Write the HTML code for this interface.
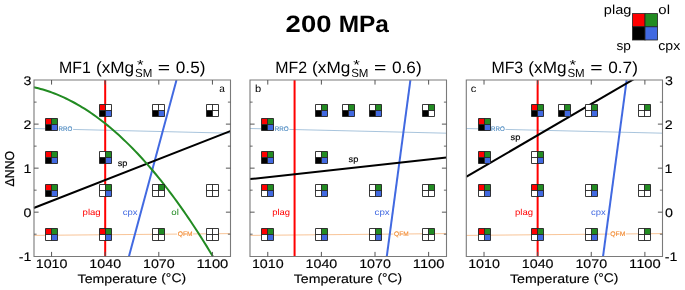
<!DOCTYPE html><html><head><meta charset="utf-8"><style>html,body{margin:0;padding:0;background:#fff;overflow:hidden;}svg{display:block;will-change:transform;}text{font-family:"Liberation Sans",sans-serif;text-rendering:geometricPrecision;}</style></head><body>
<svg width="685" height="290" viewBox="0 0 685 290">
<rect width="685" height="290" fill="#fff"/>
<defs>
<clipPath id="c0"><rect x="33.7" y="80.1" width="196.6" height="176.1"/></clipPath>
<clipPath id="c1"><rect x="249.9" y="80.1" width="196.6" height="176.1"/></clipPath>
<clipPath id="c2"><rect x="466.15" y="80.1" width="196.6" height="176.1"/></clipPath>
</defs>
<g clip-path="url(#c0)">
<line x1="33.7" y1="128.5" x2="230.3" y2="133.2" stroke="#4682b4" stroke-opacity="0.47" stroke-width="1"/>
<line x1="33.7" y1="235.4" x2="230.3" y2="233.6" stroke="#f4a460" stroke-opacity="0.65" stroke-width="1"/>
<line x1="105.19" y1="80.1" x2="105.19" y2="256.2" stroke="#ff0000" stroke-width="2"/>
<line x1="129.00" y1="256.2" x2="176.50" y2="80.1" stroke="#4169e1" stroke-width="2"/>
<line x1="33.7" y1="208.0" x2="230.3" y2="131.1" stroke="#000000" stroke-width="2"/>
<path d="M33.70,87.22 L36.01,87.75 L38.32,88.31 L40.62,88.92 L42.93,89.57 L45.24,90.27 L47.55,91.01 L49.85,91.79 L52.16,92.62 L54.47,93.49 L56.78,94.40 L59.08,95.35 L61.39,96.35 L63.70,97.39 L66.01,98.48 L68.31,99.61 L70.62,100.78 L72.93,101.99 L75.24,103.25 L77.54,104.55 L79.85,105.90 L82.16,107.28 L84.47,108.71 L86.77,110.19 L89.08,111.71 L91.39,113.27 L93.70,114.87 L96.01,116.52 L98.31,118.21 L100.62,119.94 L102.93,121.72 L105.24,123.54 L107.54,125.40 L109.85,127.31 L112.16,129.25 L114.47,131.25 L116.77,133.28 L119.08,135.36 L121.39,137.48 L123.70,139.65 L126.00,141.86 L128.31,144.11 L130.62,146.41 L132.93,148.74 L135.23,151.13 L137.54,153.55 L139.85,156.02 L142.16,158.53 L144.46,161.08 L146.77,163.68 L149.08,166.32 L151.39,169.01 L153.69,171.73 L156.00,174.51 L158.31,177.32 L160.62,180.18 L162.93,183.08 L165.23,186.02 L167.54,189.01 L169.85,192.04 L172.16,195.11 L174.46,198.23 L176.77,201.39 L179.08,204.59 L181.39,207.83 L183.69,211.12 L186.00,214.46 L188.31,217.83 L190.62,221.25 L192.92,224.71 L195.23,228.22 L197.54,231.77 L199.85,235.36 L202.15,238.99 L204.46,242.67 L206.77,246.39 L209.08,250.16 L211.38,253.97 L213.69,257.82 L216.00,261.71" fill="none" stroke="#228b22" stroke-width="2"/>
</g>
<rect x="58.10" y="124.60" width="15.00" height="7.6" fill="#fff"/>
<text x="58.59" y="130.90" font-size="6.6" fill="#4a88c0" textLength="13.81" lengthAdjust="spacingAndGlyphs" stroke="#4a88c0" stroke-width="0.12">RRO</text>
<rect x="177.10" y="229.60" width="15.90" height="7.6" fill="#fff"/>
<text x="177.78" y="235.90" font-size="6.6" fill="#f28a30" textLength="14.78" lengthAdjust="spacingAndGlyphs" stroke="#f28a30" stroke-width="0.12">QFM</text>
<rect x="45.50" y="118.50" width="6.00" height="6.00" fill="#ff0000"/><rect x="51.50" y="118.50" width="6.00" height="6.00" fill="#228b22"/><rect x="45.50" y="124.50" width="6.00" height="6.00" fill="#000000"/><rect x="51.50" y="124.50" width="6.00" height="6.00" fill="#4169e1"/><path d="M45.5,118.5H57.5V130.5H45.5ZM51.5,118.5V130.5M45.5,124.5H57.5" fill="none" stroke="#222" stroke-width="0.9"/>
<rect x="99.50" y="104.50" width="6.00" height="6.00" fill="#ff0000"/><rect x="105.50" y="104.50" width="6.00" height="6.00" fill="#ffffff"/><rect x="99.50" y="110.50" width="6.00" height="6.00" fill="#000000"/><rect x="105.50" y="110.50" width="6.00" height="6.00" fill="#4169e1"/><path d="M99.5,104.5H111.5V116.5H99.5ZM105.5,104.5V116.5M99.5,110.5H111.5" fill="none" stroke="#222" stroke-width="0.9"/>
<rect x="152.50" y="104.50" width="6.00" height="6.00" fill="#ffffff"/><rect x="158.50" y="104.50" width="6.00" height="6.00" fill="#ffffff"/><rect x="152.50" y="110.50" width="6.00" height="6.00" fill="#000000"/><rect x="158.50" y="110.50" width="6.00" height="6.00" fill="#4169e1"/><path d="M152.5,104.5H164.5V116.5H152.5ZM158.5,104.5V116.5M152.5,110.5H164.5" fill="none" stroke="#222" stroke-width="0.9"/>
<rect x="206.50" y="104.50" width="6.00" height="6.00" fill="#ffffff"/><rect x="212.50" y="104.50" width="6.00" height="6.00" fill="#ffffff"/><rect x="206.50" y="110.50" width="6.00" height="6.00" fill="#000000"/><rect x="212.50" y="110.50" width="6.00" height="6.00" fill="#ffffff"/><path d="M206.5,104.5H218.5V116.5H206.5ZM212.5,104.5V116.5M206.5,110.5H218.5" fill="none" stroke="#222" stroke-width="0.9"/>
<rect x="45.50" y="151.50" width="6.00" height="6.00" fill="#ff0000"/><rect x="51.50" y="151.50" width="6.00" height="6.00" fill="#228b22"/><rect x="45.50" y="157.50" width="6.00" height="6.00" fill="#000000"/><rect x="51.50" y="157.50" width="6.00" height="6.00" fill="#4169e1"/><path d="M45.5,151.5H57.5V163.5H45.5ZM51.5,151.5V163.5M45.5,157.5H57.5" fill="none" stroke="#222" stroke-width="0.9"/>
<rect x="99.50" y="151.50" width="6.00" height="6.00" fill="#ffffff"/><rect x="105.50" y="151.50" width="6.00" height="6.00" fill="#228b22"/><rect x="99.50" y="157.50" width="6.00" height="6.00" fill="#000000"/><rect x="105.50" y="157.50" width="6.00" height="6.00" fill="#4169e1"/><path d="M99.5,151.5H111.5V163.5H99.5ZM105.5,151.5V163.5M99.5,157.5H111.5" fill="none" stroke="#222" stroke-width="0.9"/>
<rect x="45.50" y="184.50" width="6.00" height="6.00" fill="#ff0000"/><rect x="51.50" y="184.50" width="6.00" height="6.00" fill="#228b22"/><rect x="45.50" y="190.50" width="6.00" height="6.00" fill="#000000"/><rect x="51.50" y="190.50" width="6.00" height="6.00" fill="#4169e1"/><path d="M45.5,184.5H57.5V196.5H45.5ZM51.5,184.5V196.5M45.5,190.5H57.5" fill="none" stroke="#222" stroke-width="0.9"/>
<rect x="99.50" y="184.50" width="6.00" height="6.00" fill="#ffffff"/><rect x="105.50" y="184.50" width="6.00" height="6.00" fill="#228b22"/><rect x="99.50" y="190.50" width="6.00" height="6.00" fill="#ffffff"/><rect x="105.50" y="190.50" width="6.00" height="6.00" fill="#4169e1"/><path d="M99.5,184.5H111.5V196.5H99.5ZM105.5,184.5V196.5M99.5,190.5H111.5" fill="none" stroke="#222" stroke-width="0.9"/>
<rect x="152.50" y="184.50" width="6.00" height="6.00" fill="#ffffff"/><rect x="158.50" y="184.50" width="6.00" height="6.00" fill="#228b22"/><rect x="152.50" y="190.50" width="6.00" height="6.00" fill="#ffffff"/><rect x="158.50" y="190.50" width="6.00" height="6.00" fill="#ffffff"/><path d="M152.5,184.5H164.5V196.5H152.5ZM158.5,184.5V196.5M152.5,190.5H164.5" fill="none" stroke="#222" stroke-width="0.9"/>
<rect x="206.50" y="184.50" width="6.00" height="6.00" fill="#ffffff"/><rect x="212.50" y="184.50" width="6.00" height="6.00" fill="#ffffff"/><rect x="206.50" y="190.50" width="6.00" height="6.00" fill="#ffffff"/><rect x="212.50" y="190.50" width="6.00" height="6.00" fill="#ffffff"/><path d="M206.5,184.5H218.5V196.5H206.5ZM212.5,184.5V196.5M206.5,190.5H218.5" fill="none" stroke="#222" stroke-width="0.9"/>
<rect x="45.50" y="228.50" width="6.00" height="6.00" fill="#ff0000"/><rect x="51.50" y="228.50" width="6.00" height="6.00" fill="#228b22"/><rect x="45.50" y="234.50" width="6.00" height="6.00" fill="#ffffff"/><rect x="51.50" y="234.50" width="6.00" height="6.00" fill="#4169e1"/><path d="M45.5,228.5H57.5V240.5H45.5ZM51.5,228.5V240.5M45.5,234.5H57.5" fill="none" stroke="#222" stroke-width="0.9"/>
<rect x="99.50" y="228.50" width="6.00" height="6.00" fill="#ff0000"/><rect x="105.50" y="228.50" width="6.00" height="6.00" fill="#228b22"/><rect x="99.50" y="234.50" width="6.00" height="6.00" fill="#ffffff"/><rect x="105.50" y="234.50" width="6.00" height="6.00" fill="#4169e1"/><path d="M99.5,228.5H111.5V240.5H99.5ZM105.5,228.5V240.5M99.5,234.5H111.5" fill="none" stroke="#222" stroke-width="0.9"/>
<rect x="152.50" y="228.50" width="6.00" height="6.00" fill="#ffffff"/><rect x="158.50" y="228.50" width="6.00" height="6.00" fill="#228b22"/><rect x="152.50" y="234.50" width="6.00" height="6.00" fill="#ffffff"/><rect x="158.50" y="234.50" width="6.00" height="6.00" fill="#ffffff"/><path d="M152.5,228.5H164.5V240.5H152.5ZM158.5,228.5V240.5M152.5,234.5H164.5" fill="none" stroke="#222" stroke-width="0.9"/>
<rect x="206.50" y="228.50" width="6.00" height="6.00" fill="#ffffff"/><rect x="212.50" y="228.50" width="6.00" height="6.00" fill="#ffffff"/><rect x="206.50" y="234.50" width="6.00" height="6.00" fill="#ffffff"/><rect x="212.50" y="234.50" width="6.00" height="6.00" fill="#ffffff"/><path d="M206.5,228.5H218.5V240.5H206.5ZM212.5,228.5V240.5M206.5,234.5H218.5" fill="none" stroke="#222" stroke-width="0.9"/>
<text x="117.65" y="165.80" font-size="8.6" fill="#000000" textLength="9.73" lengthAdjust="spacingAndGlyphs" stroke="#000" stroke-width="0.15">sp</text>
<text x="82.58" y="214.90" font-size="8.6" fill="#ff0000" textLength="18.13" lengthAdjust="spacingAndGlyphs" stroke="none">plag</text>
<text x="122.69" y="214.90" font-size="8.6" fill="#4169e1" textLength="14.84" lengthAdjust="spacingAndGlyphs" stroke="none">cpx</text>
<text x="171.29" y="214.90" font-size="8.6" fill="#228b22" textLength="7.58" lengthAdjust="spacingAndGlyphs" stroke="none">ol</text>
<text x="219.37" y="91.70" font-size="10.3" fill="#000" textLength="5.62" lengthAdjust="spacingAndGlyphs" >a</text>
<path d="M34.0,80.0H230.5V256.5H34.0Z" fill="none" stroke="#7a7a7a" stroke-width="1.1"/>
<path d="M51.57,256.5v-4.6M51.57,80.0v4.6M105.19,256.5v-4.6M105.19,80.0v4.6M158.81,256.5v-4.6M158.81,80.0v4.6M212.43,256.5v-4.6M212.43,80.0v4.6M34.0,212.17h4.6M230.5,212.17h-4.6M34.0,168.15h4.6M230.5,168.15h-4.6M34.0,124.12h4.6M230.5,124.12h-4.6" stroke="#555555" stroke-width="1" fill="none"/>
<path d="M34.0,234.19h2.6M230.5,234.19h-2.6M34.0,190.16h2.6M230.5,190.16h-2.6M34.0,146.14h2.6M230.5,146.14h-2.6M34.0,102.11h2.6M230.5,102.11h-2.6" stroke="#555555" stroke-width="0.9" fill="none"/>
<text x="35.75" y="268.20" font-size="12.5" fill="#000" stroke="#000" stroke-width="0.12" textLength="31.74" lengthAdjust="spacingAndGlyphs" >1010</text>
<text x="89.37" y="268.20" font-size="12.5" fill="#000" stroke="#000" stroke-width="0.12" textLength="31.74" lengthAdjust="spacingAndGlyphs" >1040</text>
<text x="142.99" y="268.20" font-size="12.5" fill="#000" stroke="#000" stroke-width="0.12" textLength="31.74" lengthAdjust="spacingAndGlyphs" >1070</text>
<text x="196.57" y="268.20" font-size="12.5" fill="#000" stroke="#000" stroke-width="0.12" textLength="31.77" lengthAdjust="spacingAndGlyphs" >1100</text>
<text x="77.58" y="282.80" font-size="12.4" fill="#000" stroke="#000" stroke-width="0.12" textLength="79.44" lengthAdjust="spacingAndGlyphs" >Temperature</text>
<text x="161.23" y="282.30" font-size="12.4" fill="#000" stroke="#000" stroke-width="0.12" textLength="24.81" lengthAdjust="spacingAndGlyphs" >(°C)</text>
<text x="58.99" y="72.50" font-size="16.4" fill="#000" textLength="31.77" lengthAdjust="spacingAndGlyphs" >MF1</text>
<text x="95.93" y="72.50" font-size="16.4" fill="#000" textLength="38.19" lengthAdjust="spacingAndGlyphs" >(xMg</text>
<text x="137.10" y="68.54" font-size="13" fill="#000" textLength="6.58" lengthAdjust="spacingAndGlyphs" stroke="none">*</text>
<text x="134.98" y="77.00" font-size="11.8" fill="#000" textLength="17.27" lengthAdjust="spacingAndGlyphs" stroke="none">SM</text>
<text x="157.70" y="72.50" font-size="16.4" fill="#000" textLength="12.34" lengthAdjust="spacingAndGlyphs" >=</text>
<text x="175.81" y="72.50" font-size="16.4" fill="#000" textLength="29.63" lengthAdjust="spacingAndGlyphs" >0.5)</text>
<g clip-path="url(#c1)">
<line x1="249.9" y1="128.5" x2="446.5" y2="133.2" stroke="#4682b4" stroke-opacity="0.47" stroke-width="1"/>
<line x1="249.9" y1="235.4" x2="446.5" y2="233.6" stroke="#f4a460" stroke-opacity="0.65" stroke-width="1"/>
<line x1="294.58" y1="80.1" x2="294.58" y2="256.2" stroke="#ff0000" stroke-width="2"/>
<line x1="386.81" y1="256.2" x2="410.40" y2="80.1" stroke="#4169e1" stroke-width="2"/>
<line x1="249.9" y1="179.1" x2="446.5" y2="157.4" stroke="#000000" stroke-width="2"/>
</g>
<rect x="274.30" y="124.90" width="15.10" height="7.6" fill="#fff"/>
<text x="274.78" y="131.20" font-size="6.6" fill="#4a88c0" textLength="13.91" lengthAdjust="spacingAndGlyphs" stroke="#4a88c0" stroke-width="0.12">RRO</text>
<rect x="393.40" y="229.60" width="15.70" height="7.6" fill="#fff"/>
<text x="394.09" y="235.90" font-size="6.6" fill="#f28a30" textLength="14.56" lengthAdjust="spacingAndGlyphs" stroke="#f28a30" stroke-width="0.12">QFM</text>
<rect x="261.50" y="118.50" width="6.00" height="6.00" fill="#ff0000"/><rect x="267.50" y="118.50" width="6.00" height="6.00" fill="#228b22"/><rect x="261.50" y="124.50" width="6.00" height="6.00" fill="#000000"/><rect x="267.50" y="124.50" width="6.00" height="6.00" fill="#4169e1"/><path d="M261.5,118.5H273.5V130.5H261.5ZM267.5,118.5V130.5M261.5,124.5H273.5" fill="none" stroke="#222" stroke-width="0.9"/>
<rect x="315.50" y="104.50" width="6.00" height="6.00" fill="#ffffff"/><rect x="321.50" y="104.50" width="6.00" height="6.00" fill="#228b22"/><rect x="315.50" y="110.50" width="6.00" height="6.00" fill="#000000"/><rect x="321.50" y="110.50" width="6.00" height="6.00" fill="#4169e1"/><path d="M315.5,104.5H327.5V116.5H315.5ZM321.5,104.5V116.5M315.5,110.5H327.5" fill="none" stroke="#222" stroke-width="0.9"/>
<rect x="342.50" y="104.50" width="6.00" height="6.00" fill="#ffffff"/><rect x="348.50" y="104.50" width="6.00" height="6.00" fill="#228b22"/><rect x="342.50" y="110.50" width="6.00" height="6.00" fill="#000000"/><rect x="348.50" y="110.50" width="6.00" height="6.00" fill="#4169e1"/><path d="M342.5,104.5H354.5V116.5H342.5ZM348.5,104.5V116.5M342.5,110.5H354.5" fill="none" stroke="#222" stroke-width="0.9"/>
<rect x="369.50" y="104.50" width="6.00" height="6.00" fill="#ffffff"/><rect x="375.50" y="104.50" width="6.00" height="6.00" fill="#228b22"/><rect x="369.50" y="110.50" width="6.00" height="6.00" fill="#000000"/><rect x="375.50" y="110.50" width="6.00" height="6.00" fill="#4169e1"/><path d="M369.5,104.5H381.5V116.5H369.5ZM375.5,104.5V116.5M369.5,110.5H381.5" fill="none" stroke="#222" stroke-width="0.9"/>
<rect x="422.50" y="104.50" width="6.00" height="6.00" fill="#ffffff"/><rect x="428.50" y="104.50" width="6.00" height="6.00" fill="#228b22"/><rect x="422.50" y="110.50" width="6.00" height="6.00" fill="#000000"/><rect x="428.50" y="110.50" width="6.00" height="6.00" fill="#ffffff"/><path d="M422.5,104.5H434.5V116.5H422.5ZM428.5,104.5V116.5M422.5,110.5H434.5" fill="none" stroke="#222" stroke-width="0.9"/>
<rect x="261.50" y="151.50" width="6.00" height="6.00" fill="#ff0000"/><rect x="267.50" y="151.50" width="6.00" height="6.00" fill="#228b22"/><rect x="261.50" y="157.50" width="6.00" height="6.00" fill="#000000"/><rect x="267.50" y="157.50" width="6.00" height="6.00" fill="#4169e1"/><path d="M261.5,151.5H273.5V163.5H261.5ZM267.5,151.5V163.5M261.5,157.5H273.5" fill="none" stroke="#222" stroke-width="0.9"/>
<rect x="315.50" y="151.50" width="6.00" height="6.00" fill="#ffffff"/><rect x="321.50" y="151.50" width="6.00" height="6.00" fill="#228b22"/><rect x="315.50" y="157.50" width="6.00" height="6.00" fill="#000000"/><rect x="321.50" y="157.50" width="6.00" height="6.00" fill="#4169e1"/><path d="M315.5,151.5H327.5V163.5H315.5ZM321.5,151.5V163.5M315.5,157.5H327.5" fill="none" stroke="#222" stroke-width="0.9"/>
<rect x="261.50" y="184.50" width="6.00" height="6.00" fill="#ff0000"/><rect x="267.50" y="184.50" width="6.00" height="6.00" fill="#228b22"/><rect x="261.50" y="190.50" width="6.00" height="6.00" fill="#ffffff"/><rect x="267.50" y="190.50" width="6.00" height="6.00" fill="#4169e1"/><path d="M261.5,184.5H273.5V196.5H261.5ZM267.5,184.5V196.5M261.5,190.5H273.5" fill="none" stroke="#222" stroke-width="0.9"/>
<rect x="315.50" y="184.50" width="6.00" height="6.00" fill="#ffffff"/><rect x="321.50" y="184.50" width="6.00" height="6.00" fill="#228b22"/><rect x="315.50" y="190.50" width="6.00" height="6.00" fill="#ffffff"/><rect x="321.50" y="190.50" width="6.00" height="6.00" fill="#4169e1"/><path d="M315.5,184.5H327.5V196.5H315.5ZM321.5,184.5V196.5M315.5,190.5H327.5" fill="none" stroke="#222" stroke-width="0.9"/>
<rect x="369.50" y="184.50" width="6.00" height="6.00" fill="#ffffff"/><rect x="375.50" y="184.50" width="6.00" height="6.00" fill="#228b22"/><rect x="369.50" y="190.50" width="6.00" height="6.00" fill="#ffffff"/><rect x="375.50" y="190.50" width="6.00" height="6.00" fill="#4169e1"/><path d="M369.5,184.5H381.5V196.5H369.5ZM375.5,184.5V196.5M369.5,190.5H381.5" fill="none" stroke="#222" stroke-width="0.9"/>
<rect x="422.50" y="184.50" width="6.00" height="6.00" fill="#ffffff"/><rect x="428.50" y="184.50" width="6.00" height="6.00" fill="#228b22"/><rect x="422.50" y="190.50" width="6.00" height="6.00" fill="#ffffff"/><rect x="428.50" y="190.50" width="6.00" height="6.00" fill="#ffffff"/><path d="M422.5,184.5H434.5V196.5H422.5ZM428.5,184.5V196.5M422.5,190.5H434.5" fill="none" stroke="#222" stroke-width="0.9"/>
<rect x="261.50" y="228.50" width="6.00" height="6.00" fill="#ff0000"/><rect x="267.50" y="228.50" width="6.00" height="6.00" fill="#228b22"/><rect x="261.50" y="234.50" width="6.00" height="6.00" fill="#ffffff"/><rect x="267.50" y="234.50" width="6.00" height="6.00" fill="#4169e1"/><path d="M261.5,228.5H273.5V240.5H261.5ZM267.5,228.5V240.5M261.5,234.5H273.5" fill="none" stroke="#222" stroke-width="0.9"/>
<rect x="315.50" y="228.50" width="6.00" height="6.00" fill="#ffffff"/><rect x="321.50" y="228.50" width="6.00" height="6.00" fill="#228b22"/><rect x="315.50" y="234.50" width="6.00" height="6.00" fill="#ffffff"/><rect x="321.50" y="234.50" width="6.00" height="6.00" fill="#4169e1"/><path d="M315.5,228.5H327.5V240.5H315.5ZM321.5,228.5V240.5M315.5,234.5H327.5" fill="none" stroke="#222" stroke-width="0.9"/>
<rect x="369.50" y="228.50" width="6.00" height="6.00" fill="#ffffff"/><rect x="375.50" y="228.50" width="6.00" height="6.00" fill="#228b22"/><rect x="369.50" y="234.50" width="6.00" height="6.00" fill="#ffffff"/><rect x="375.50" y="234.50" width="6.00" height="6.00" fill="#4169e1"/><path d="M369.5,228.5H381.5V240.5H369.5ZM375.5,228.5V240.5M369.5,234.5H381.5" fill="none" stroke="#222" stroke-width="0.9"/>
<rect x="422.50" y="228.50" width="6.00" height="6.00" fill="#ffffff"/><rect x="428.50" y="228.50" width="6.00" height="6.00" fill="#228b22"/><rect x="422.50" y="234.50" width="6.00" height="6.00" fill="#ffffff"/><rect x="428.50" y="234.50" width="6.00" height="6.00" fill="#ffffff"/><path d="M422.5,228.5H434.5V240.5H422.5ZM428.5,228.5V240.5M422.5,234.5H434.5" fill="none" stroke="#222" stroke-width="0.9"/>
<text x="348.64" y="161.90" font-size="8.6" fill="#000000" textLength="9.84" lengthAdjust="spacingAndGlyphs" stroke="#000" stroke-width="0.15">sp</text>
<text x="272.24" y="214.90" font-size="8.6" fill="#ff0000" textLength="17.86" lengthAdjust="spacingAndGlyphs" stroke="none">plag</text>
<text x="374.59" y="214.90" font-size="8.6" fill="#4169e1" textLength="15.15" lengthAdjust="spacingAndGlyphs" stroke="none">cpx</text>
<text x="255.08" y="91.70" font-size="10.3" fill="#000" textLength="6.18" lengthAdjust="spacingAndGlyphs" >b</text>
<path d="M250.0,80.0H446.5V256.5H250.0Z" fill="none" stroke="#7a7a7a" stroke-width="1.1"/>
<path d="M267.77,256.5v-4.6M267.77,80.0v4.6M321.39,256.5v-4.6M321.39,80.0v4.6M375.01,256.5v-4.6M375.01,80.0v4.6M428.63,256.5v-4.6M428.63,80.0v4.6M250.0,212.17h4.6M446.5,212.17h-4.6M250.0,168.15h4.6M446.5,168.15h-4.6M250.0,124.12h4.6M446.5,124.12h-4.6" stroke="#555555" stroke-width="1" fill="none"/>
<path d="M250.0,234.19h2.6M446.5,234.19h-2.6M250.0,190.16h2.6M446.5,190.16h-2.6M250.0,146.14h2.6M446.5,146.14h-2.6M250.0,102.11h2.6M446.5,102.11h-2.6" stroke="#555555" stroke-width="0.9" fill="none"/>
<text x="251.95" y="268.20" font-size="12.5" fill="#000" stroke="#000" stroke-width="0.12" textLength="31.74" lengthAdjust="spacingAndGlyphs" >1010</text>
<text x="305.57" y="268.20" font-size="12.5" fill="#000" stroke="#000" stroke-width="0.12" textLength="31.74" lengthAdjust="spacingAndGlyphs" >1040</text>
<text x="359.19" y="268.20" font-size="12.5" fill="#000" stroke="#000" stroke-width="0.12" textLength="31.74" lengthAdjust="spacingAndGlyphs" >1070</text>
<text x="412.77" y="268.20" font-size="12.5" fill="#000" stroke="#000" stroke-width="0.12" textLength="31.77" lengthAdjust="spacingAndGlyphs" >1100</text>
<text x="293.78" y="282.80" font-size="12.4" fill="#000" stroke="#000" stroke-width="0.12" textLength="79.44" lengthAdjust="spacingAndGlyphs" >Temperature</text>
<text x="377.43" y="282.30" font-size="12.4" fill="#000" stroke="#000" stroke-width="0.12" textLength="24.81" lengthAdjust="spacingAndGlyphs" >(°C)</text>
<text x="275.19" y="72.50" font-size="16.4" fill="#000" textLength="31.81" lengthAdjust="spacingAndGlyphs" >MF2</text>
<text x="312.13" y="72.50" font-size="16.4" fill="#000" textLength="38.19" lengthAdjust="spacingAndGlyphs" >(xMg</text>
<text x="353.30" y="68.54" font-size="13" fill="#000" textLength="6.58" lengthAdjust="spacingAndGlyphs" stroke="none">*</text>
<text x="351.18" y="77.00" font-size="11.8" fill="#000" textLength="17.27" lengthAdjust="spacingAndGlyphs" stroke="none">SM</text>
<text x="373.90" y="72.50" font-size="16.4" fill="#000" textLength="12.34" lengthAdjust="spacingAndGlyphs" >=</text>
<text x="392.01" y="72.50" font-size="16.4" fill="#000" textLength="29.63" lengthAdjust="spacingAndGlyphs" >0.6)</text>
<g clip-path="url(#c2)">
<line x1="466.15" y1="128.5" x2="662.75" y2="133.2" stroke="#4682b4" stroke-opacity="0.47" stroke-width="1"/>
<line x1="466.15" y1="235.4" x2="662.75" y2="233.6" stroke="#f4a460" stroke-opacity="0.65" stroke-width="1"/>
<line x1="537.64" y1="80.1" x2="537.64" y2="256.2" stroke="#ff0000" stroke-width="2"/>
<line x1="603.06" y1="256.2" x2="626.65" y2="80.1" stroke="#4169e1" stroke-width="2"/>
<line x1="466.15" y1="176.9" x2="662.75" y2="62.28220000000002" stroke="#000000" stroke-width="2"/>
</g>
<rect x="490.60" y="124.90" width="14.90" height="7.6" fill="#fff"/>
<text x="491.09" y="131.20" font-size="6.6" fill="#4a88c0" textLength="13.70" lengthAdjust="spacingAndGlyphs" stroke="#4a88c0" stroke-width="0.12">RRO</text>
<rect x="609.60" y="229.60" width="16.20" height="7.6" fill="#fff"/>
<text x="610.28" y="235.90" font-size="6.6" fill="#f28a30" textLength="15.09" lengthAdjust="spacingAndGlyphs" stroke="#f28a30" stroke-width="0.12">QFM</text>
<rect x="478.50" y="118.50" width="6.00" height="6.00" fill="#ff0000"/><rect x="484.50" y="118.50" width="6.00" height="6.00" fill="#228b22"/><rect x="478.50" y="124.50" width="6.00" height="6.00" fill="#000000"/><rect x="484.50" y="124.50" width="6.00" height="6.00" fill="#4169e1"/><path d="M478.5,118.5H490.5V130.5H478.5ZM484.5,118.5V130.5M478.5,124.5H490.5" fill="none" stroke="#222" stroke-width="0.9"/>
<rect x="531.50" y="104.50" width="6.00" height="6.00" fill="#ff0000"/><rect x="537.50" y="104.50" width="6.00" height="6.00" fill="#228b22"/><rect x="531.50" y="110.50" width="6.00" height="6.00" fill="#000000"/><rect x="537.50" y="110.50" width="6.00" height="6.00" fill="#4169e1"/><path d="M531.5,104.5H543.5V116.5H531.5ZM537.5,104.5V116.5M531.5,110.5H543.5" fill="none" stroke="#222" stroke-width="0.9"/>
<rect x="558.50" y="104.50" width="6.00" height="6.00" fill="#ffffff"/><rect x="564.50" y="104.50" width="6.00" height="6.00" fill="#228b22"/><rect x="558.50" y="110.50" width="6.00" height="6.00" fill="#000000"/><rect x="564.50" y="110.50" width="6.00" height="6.00" fill="#4169e1"/><path d="M558.5,104.5H570.5V116.5H558.5ZM564.5,104.5V116.5M558.5,110.5H570.5" fill="none" stroke="#222" stroke-width="0.9"/>
<rect x="585.50" y="104.50" width="6.00" height="6.00" fill="#ffffff"/><rect x="591.50" y="104.50" width="6.00" height="6.00" fill="#228b22"/><rect x="585.50" y="110.50" width="6.00" height="6.00" fill="#ffffff"/><rect x="591.50" y="110.50" width="6.00" height="6.00" fill="#4169e1"/><path d="M585.5,104.5H597.5V116.5H585.5ZM591.5,104.5V116.5M585.5,110.5H597.5" fill="none" stroke="#222" stroke-width="0.9"/>
<rect x="638.50" y="104.50" width="6.00" height="6.00" fill="#ffffff"/><rect x="644.50" y="104.50" width="6.00" height="6.00" fill="#228b22"/><rect x="638.50" y="110.50" width="6.00" height="6.00" fill="#ffffff"/><rect x="644.50" y="110.50" width="6.00" height="6.00" fill="#ffffff"/><path d="M638.5,104.5H650.5V116.5H638.5ZM644.5,104.5V116.5M638.5,110.5H650.5" fill="none" stroke="#222" stroke-width="0.9"/>
<rect x="478.50" y="151.50" width="6.00" height="6.00" fill="#ff0000"/><rect x="484.50" y="151.50" width="6.00" height="6.00" fill="#228b22"/><rect x="478.50" y="157.50" width="6.00" height="6.00" fill="#000000"/><rect x="484.50" y="157.50" width="6.00" height="6.00" fill="#4169e1"/><path d="M478.5,151.5H490.5V163.5H478.5ZM484.5,151.5V163.5M478.5,157.5H490.5" fill="none" stroke="#222" stroke-width="0.9"/>
<rect x="531.50" y="151.50" width="6.00" height="6.00" fill="#ffffff"/><rect x="537.50" y="151.50" width="6.00" height="6.00" fill="#228b22"/><rect x="531.50" y="157.50" width="6.00" height="6.00" fill="#ffffff"/><rect x="537.50" y="157.50" width="6.00" height="6.00" fill="#4169e1"/><path d="M531.5,151.5H543.5V163.5H531.5ZM537.5,151.5V163.5M531.5,157.5H543.5" fill="none" stroke="#222" stroke-width="0.9"/>
<rect x="478.50" y="184.50" width="6.00" height="6.00" fill="#ff0000"/><rect x="484.50" y="184.50" width="6.00" height="6.00" fill="#228b22"/><rect x="478.50" y="190.50" width="6.00" height="6.00" fill="#ffffff"/><rect x="484.50" y="190.50" width="6.00" height="6.00" fill="#4169e1"/><path d="M478.5,184.5H490.5V196.5H478.5ZM484.5,184.5V196.5M478.5,190.5H490.5" fill="none" stroke="#222" stroke-width="0.9"/>
<rect x="531.50" y="184.50" width="6.00" height="6.00" fill="#ff0000"/><rect x="537.50" y="184.50" width="6.00" height="6.00" fill="#228b22"/><rect x="531.50" y="190.50" width="6.00" height="6.00" fill="#ffffff"/><rect x="537.50" y="190.50" width="6.00" height="6.00" fill="#4169e1"/><path d="M531.5,184.5H543.5V196.5H531.5ZM537.5,184.5V196.5M531.5,190.5H543.5" fill="none" stroke="#222" stroke-width="0.9"/>
<rect x="585.50" y="184.50" width="6.00" height="6.00" fill="#ffffff"/><rect x="591.50" y="184.50" width="6.00" height="6.00" fill="#228b22"/><rect x="585.50" y="190.50" width="6.00" height="6.00" fill="#ffffff"/><rect x="591.50" y="190.50" width="6.00" height="6.00" fill="#4169e1"/><path d="M585.5,184.5H597.5V196.5H585.5ZM591.5,184.5V196.5M585.5,190.5H597.5" fill="none" stroke="#222" stroke-width="0.9"/>
<rect x="638.50" y="184.50" width="6.00" height="6.00" fill="#ffffff"/><rect x="644.50" y="184.50" width="6.00" height="6.00" fill="#228b22"/><rect x="638.50" y="190.50" width="6.00" height="6.00" fill="#ffffff"/><rect x="644.50" y="190.50" width="6.00" height="6.00" fill="#ffffff"/><path d="M638.5,184.5H650.5V196.5H638.5ZM644.5,184.5V196.5M638.5,190.5H650.5" fill="none" stroke="#222" stroke-width="0.9"/>
<rect x="478.50" y="228.50" width="6.00" height="6.00" fill="#ff0000"/><rect x="484.50" y="228.50" width="6.00" height="6.00" fill="#228b22"/><rect x="478.50" y="234.50" width="6.00" height="6.00" fill="#ffffff"/><rect x="484.50" y="234.50" width="6.00" height="6.00" fill="#4169e1"/><path d="M478.5,228.5H490.5V240.5H478.5ZM484.5,228.5V240.5M478.5,234.5H490.5" fill="none" stroke="#222" stroke-width="0.9"/>
<rect x="531.50" y="228.50" width="6.00" height="6.00" fill="#ff0000"/><rect x="537.50" y="228.50" width="6.00" height="6.00" fill="#228b22"/><rect x="531.50" y="234.50" width="6.00" height="6.00" fill="#ffffff"/><rect x="537.50" y="234.50" width="6.00" height="6.00" fill="#4169e1"/><path d="M531.5,228.5H543.5V240.5H531.5ZM537.5,228.5V240.5M531.5,234.5H543.5" fill="none" stroke="#222" stroke-width="0.9"/>
<rect x="585.50" y="228.50" width="6.00" height="6.00" fill="#ffffff"/><rect x="591.50" y="228.50" width="6.00" height="6.00" fill="#228b22"/><rect x="585.50" y="234.50" width="6.00" height="6.00" fill="#ffffff"/><rect x="591.50" y="234.50" width="6.00" height="6.00" fill="#4169e1"/><path d="M585.5,228.5H597.5V240.5H585.5ZM591.5,228.5V240.5M585.5,234.5H597.5" fill="none" stroke="#222" stroke-width="0.9"/>
<rect x="638.50" y="228.50" width="6.00" height="6.00" fill="#ffffff"/><rect x="644.50" y="228.50" width="6.00" height="6.00" fill="#228b22"/><rect x="638.50" y="234.50" width="6.00" height="6.00" fill="#ffffff"/><rect x="644.50" y="234.50" width="6.00" height="6.00" fill="#ffffff"/><path d="M638.5,228.5H650.5V240.5H638.5ZM644.5,228.5V240.5M638.5,234.5H650.5" fill="none" stroke="#222" stroke-width="0.9"/>
<text x="510.64" y="139.90" font-size="8.6" fill="#000000" textLength="9.84" lengthAdjust="spacingAndGlyphs" stroke="#000" stroke-width="0.15">sp</text>
<text x="514.98" y="214.90" font-size="8.6" fill="#ff0000" textLength="18.02" lengthAdjust="spacingAndGlyphs" stroke="none">plag</text>
<text x="591.00" y="214.90" font-size="8.6" fill="#4169e1" textLength="14.73" lengthAdjust="spacingAndGlyphs" stroke="none">cpx</text>
<text x="470.73" y="91.70" font-size="10.3" fill="#000" textLength="5.58" lengthAdjust="spacingAndGlyphs" >c</text>
<path d="M466.3,80.0H662.5V256.5H466.3Z" fill="none" stroke="#7a7a7a" stroke-width="1.1"/>
<path d="M484.02,256.5v-4.6M484.02,80.0v4.6M537.64,256.5v-4.6M537.64,80.0v4.6M591.26,256.5v-4.6M591.26,80.0v4.6M644.88,256.5v-4.6M644.88,80.0v4.6M662.5,212.17h-4.6M662.5,168.15h-4.6M662.5,124.12h-4.6" stroke="#555555" stroke-width="1" fill="none"/>
<path d="M662.5,234.19h-2.6M662.5,190.16h-2.6M662.5,146.14h-2.6M662.5,102.11h-2.6" stroke="#555555" stroke-width="0.9" fill="none"/>
<text x="468.20" y="268.20" font-size="12.5" fill="#000" stroke="#000" stroke-width="0.12" textLength="31.74" lengthAdjust="spacingAndGlyphs" >1010</text>
<text x="521.82" y="268.20" font-size="12.5" fill="#000" stroke="#000" stroke-width="0.12" textLength="31.74" lengthAdjust="spacingAndGlyphs" >1040</text>
<text x="575.44" y="268.20" font-size="12.5" fill="#000" stroke="#000" stroke-width="0.12" textLength="31.74" lengthAdjust="spacingAndGlyphs" >1070</text>
<text x="629.02" y="268.20" font-size="12.5" fill="#000" stroke="#000" stroke-width="0.12" textLength="31.77" lengthAdjust="spacingAndGlyphs" >1100</text>
<text x="510.03" y="282.80" font-size="12.4" fill="#000" stroke="#000" stroke-width="0.12" textLength="79.44" lengthAdjust="spacingAndGlyphs" >Temperature</text>
<text x="593.68" y="282.30" font-size="12.4" fill="#000" stroke="#000" stroke-width="0.12" textLength="24.81" lengthAdjust="spacingAndGlyphs" >(°C)</text>
<text x="491.44" y="72.50" font-size="16.4" fill="#000" textLength="31.68" lengthAdjust="spacingAndGlyphs" >MF3</text>
<text x="528.38" y="72.50" font-size="16.4" fill="#000" textLength="38.19" lengthAdjust="spacingAndGlyphs" >(xMg</text>
<text x="569.55" y="68.54" font-size="13" fill="#000" textLength="6.58" lengthAdjust="spacingAndGlyphs" stroke="none">*</text>
<text x="567.43" y="77.00" font-size="11.8" fill="#000" textLength="17.27" lengthAdjust="spacingAndGlyphs" stroke="none">SM</text>
<text x="590.15" y="72.50" font-size="16.4" fill="#000" textLength="12.34" lengthAdjust="spacingAndGlyphs" >=</text>
<text x="608.26" y="72.50" font-size="16.4" fill="#000" textLength="29.63" lengthAdjust="spacingAndGlyphs" >0.7)</text>
<text x="23.49" y="84.85" font-size="12.5" fill="#000" stroke="#000" stroke-width="0.12" textLength="7.93" lengthAdjust="spacingAndGlyphs" >3</text>
<text x="664.97" y="84.85" font-size="12.5" fill="#000" stroke="#000" stroke-width="0.12" textLength="7.93" lengthAdjust="spacingAndGlyphs" >3</text>
<text x="23.60" y="128.88" font-size="12.5" fill="#000" stroke="#000" stroke-width="0.12" textLength="7.93" lengthAdjust="spacingAndGlyphs" >2</text>
<text x="664.79" y="128.88" font-size="12.5" fill="#000" stroke="#000" stroke-width="0.12" textLength="7.93" lengthAdjust="spacingAndGlyphs" >2</text>
<text x="23.56" y="172.90" font-size="12.5" fill="#000" stroke="#000" stroke-width="0.12" textLength="7.93" lengthAdjust="spacingAndGlyphs" >1</text>
<text x="664.43" y="172.90" font-size="12.5" fill="#000" stroke="#000" stroke-width="0.12" textLength="7.93" lengthAdjust="spacingAndGlyphs" >1</text>
<text x="23.42" y="216.92" font-size="12.5" fill="#000" stroke="#000" stroke-width="0.12" textLength="7.93" lengthAdjust="spacingAndGlyphs" >0</text>
<text x="664.93" y="216.92" font-size="12.5" fill="#000" stroke="#000" stroke-width="0.12" textLength="7.93" lengthAdjust="spacingAndGlyphs" >0</text>
<text x="18.82" y="260.95" font-size="12.5" fill="#000" stroke="#000" stroke-width="0.12" textLength="12.68" lengthAdjust="spacingAndGlyphs" >-1</text>
<text x="664.86" y="260.95" font-size="12.5" fill="#000" stroke="#000" stroke-width="0.12" textLength="12.68" lengthAdjust="spacingAndGlyphs" >-1</text>
<text transform="translate(13.85,168.7) rotate(-90)" font-size="12.9" text-anchor="middle" textLength="35.4" lengthAdjust="spacingAndGlyphs" stroke="#000" stroke-width="0.25">ΔNNO</text>
<text x="285.64" y="31.80" font-size="23.7" fill="#000" font-weight="bold" textLength="45.79" lengthAdjust="spacingAndGlyphs" >200</text>
<text x="338.65" y="31.80" font-size="23.7" fill="#000" font-weight="bold" textLength="50.30" lengthAdjust="spacingAndGlyphs" >MPa</text>
<rect x="632.50" y="13.60" width="12.50" height="13.20" fill="#ff0000" stroke="#222" stroke-width="0.8"/><rect x="645.00" y="13.60" width="12.50" height="13.20" fill="#228b22" stroke="#222" stroke-width="0.8"/><rect x="632.50" y="26.80" width="12.50" height="13.20" fill="#000000" stroke="#222" stroke-width="0.8"/><rect x="645.00" y="26.80" width="12.50" height="13.20" fill="#4169e1" stroke="#222" stroke-width="0.8"/>
<text x="603.85" y="13.70" font-size="13.0" fill="#000" textLength="27.57" lengthAdjust="spacingAndGlyphs" stroke="none">plag</text>
<text x="658.36" y="13.70" font-size="13.0" fill="#000" textLength="11.66" lengthAdjust="spacingAndGlyphs" stroke="none">ol</text>
<text x="616.42" y="50.10" font-size="13.0" fill="#000" textLength="14.44" lengthAdjust="spacingAndGlyphs" stroke="none">sp</text>
<text x="658.30" y="50.10" font-size="13.0" fill="#000" textLength="21.89" lengthAdjust="spacingAndGlyphs" stroke="none">cpx</text>
</svg></body></html>
